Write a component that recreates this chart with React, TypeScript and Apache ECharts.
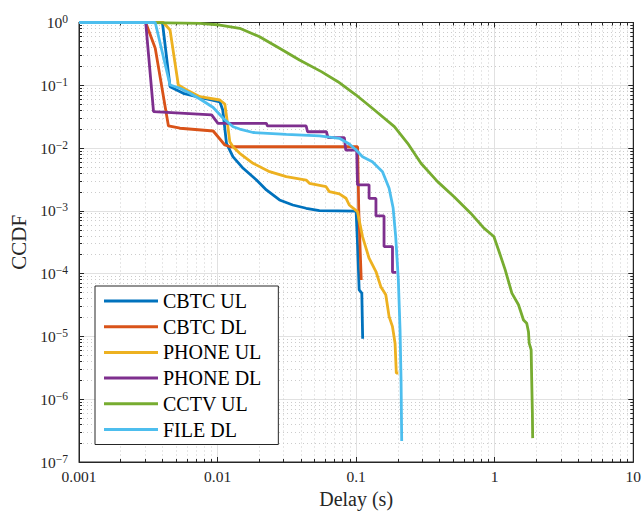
import React, { useEffect, useRef } from "react";
import * as echarts from "echarts";

const FONT = '"Liberation Serif", "DejaVu Serif", serif';
const AXIS_COLOR = "#262626";

const seriesNames = ["CBTC UL", "CBTC DL", "PHONE UL", "PHONE DL", "CCTV UL", "FILE DL"];
const seriesColors = ["#0072BD", "#D95319", "#EDB120", "#7E2F8E", "#77AC30", "#4DBEEE"];

const xTickValues = [0.001, 0.01, 0.1, 1, 10];
const yTickExponents = [0, -1, -2, -3, -4, -5, -6, -7];

// CBTC UL
const cbtcUlDelay = [0.001, 0.004, 0.00454, 0.00566, 0.00707, 0.0104, 0.0109, 0.0116, 0.0129, 0.0153, 0.0191, 0.0225, 0.028, 0.0349, 0.0436, 0.0543, 0.1, 0.1023, 0.1052, 0.1099, 0.1115];
const cbtcUlCcdf = [1, 1, 0.095, 0.0746, 0.0658, 0.0542, 0.0404, 0.0119, 0.0073, 0.00476, 0.0031, 0.00215, 0.00149, 0.00124, 0.0011, 0.00101, 0.00099, 3.05e-4, 5.5e-5, 4.9e-5, 9.2e-6];

// CBTC DL
const cbtcDlDelay = [0.001, 0.00303, 0.00355, 0.00442, 0.00536, 0.0093, 0.01128, 0.0123, 0.1025, 0.1045, 0.1089];
const cbtcDlCcdf = [1, 1, 0.388, 0.0225, 0.0207, 0.0187, 0.0112, 0.0105, 0.0105, 0.001, 7.9e-5];

// PHONE UL
const phoneUlDelay = [0.001, 0.00406, 0.00454, 0.00521, 0.00599, 0.00746, 0.01039, 0.01128, 0.01166, 0.01225, 0.01296, 0.01445, 0.01803, 0.02375, 0.0313, 0.0436, 0.046, 0.0607, 0.0641, 0.0757, 0.0845, 0.0892, 0.1023, 0.1112, 0.124, 0.139, 0.1507, 0.1637, 0.173, 0.183, 0.191, 0.195, 0.2017];
const phoneUlCcdf = [1, 1, 0.76, 0.101, 0.0841, 0.0658, 0.0583, 0.0504, 0.03, 0.01264, 0.0104, 0.00826, 0.00573, 0.00421, 0.00351, 0.0031, 0.00275, 0.00243, 0.00202, 0.00186, 0.00159, 0.00124, 9.7e-4, 3.9e-4, 1.76e-4, 1.08e-4, 6.2e-5, 4.6e-5, 2.07e-5, 1.43e-5, 7.8e-6, 2.6e-6, 2.6e-6];

// PHONE DL
const phoneDlDelay = [0.001, 0.00303, 0.00345, 0.00906, 0.01006, 0.0225, 0.0229, 0.0436, 0.0446, 0.061, 0.0627, 0.0822, 0.0842, 0.101, 0.1023, 0.124, 0.124, 0.139, 0.139, 0.159, 0.159, 0.183, 0.183, 0.195];
const phoneDlCcdf = [1, 1, 0.038, 0.0337, 0.0248, 0.0248, 0.0225, 0.0225, 0.0182, 0.0182, 0.0147, 0.0147, 0.0093, 0.0093, 0.0026, 0.0026, 0.00158, 0.00158, 8.3e-4, 8.3e-4, 2.7e-4, 2.7e-4, 1.05e-4, 1.05e-4];

// CCTV UL
const cctvUlDelay = [0.001, 0.00326, 0.00746, 0.01039, 0.01445, 0.0201, 0.028, 0.039, 0.0561, 0.0739, 0.1, 0.1356, 0.1888, 0.2355, 0.2936, 0.387, 0.509, 0.671, 0.836, 0.986, 1.066, 1.191, 1.33, 1.485, 1.614, 1.703, 1.753, 1.774, 1.833, 1.85, 1.871, 1.88];
const cctvUlCcdf = [1, 0.995, 0.971, 0.912, 0.809, 0.594, 0.388, 0.253, 0.165, 0.114, 0.07, 0.0404, 0.0219, 0.0119, 0.00573, 0.00292, 0.00168, 9.2e-4, 5.3e-4, 3.9e-4, 2.38e-4, 1.15e-4, 4.9e-5, 3.2e-5, 1.83e-5, 1.62e-5, 1.19e-5, 7.8e-6, 6.1e-6, 2.03e-6, 6e-7, 2.4e-7];

// FILE DL
const fileDlDelay = [0.001, 0.00355, 0.00454, 0.00536, 0.00632, 0.00767, 0.0093, 0.01097, 0.01294, 0.01445, 0.01803, 0.0313, 0.0543, 0.0757, 0.0892, 0.1, 0.1112, 0.131, 0.155, 0.173, 0.185, 0.193, 0.2017, 0.2075, 0.211, 0.2133];
const fileDlCcdf = [1, 1, 0.101, 0.0896, 0.0746, 0.0583, 0.0443, 0.0298, 0.0219, 0.0201, 0.0177, 0.0165, 0.0156, 0.0143, 0.0116, 0.0093, 0.0073, 0.00607, 0.0042, 0.00229, 0.00111, 3.9e-4, 7.9e-5, 1.26e-5, 2.03e-6, 2.16e-7];

const allDelays = [cbtcUlDelay, cbtcDlDelay, phoneUlDelay, phoneDlDelay, cctvUlDelay, fileDlDelay];
const allCcdfs = [cbtcUlCcdf, cbtcDlCcdf, phoneUlCcdf, phoneDlCcdf, cctvUlCcdf, fileDlCcdf];

const zip = (xs: number[], ys: number[]) => xs.map((x, i) => [x, ys[i]]);

export default function App() {
  const ref = useRef<HTMLDivElement>(null);
  useEffect(() => {
    if (!ref.current) return;
    const chart = echarts.init(ref.current, null, { renderer: "svg" });

    const majorSplit = { show: true, lineStyle: { color: "#e1e1e1", width: 1, type: "solid" } };
    const minorSplit = { show: true, lineStyle: { color: "#cccccc", width: 1, type: [1, 3] } };
    const tick = { show: true, inside: true, length: 5, lineStyle: { color: AXIS_COLOR, width: 1 } };
    const minorTick = { show: true, splitNumber: 9, length: 3, lineStyle: { color: AXIS_COLOR, width: 1 } };
    const axisLine = { show: true, lineStyle: { color: AXIS_COLOR, width: 1 } };

    const option: any = {
      animation: false,
      backgroundColor: "#ffffff",
      grid: {
        left: 78.5,
        right: 8.5,
        top: 22.5,
        bottom: 52,
        show: true,
        borderColor: AXIS_COLOR,
        borderWidth: 1,
      },
      legend: {
        data: seriesNames,
        orient: "vertical",
        left: 95,
        top: 286,
        backgroundColor: "#ffffff",
        borderColor: AXIS_COLOR,
        borderWidth: 1,
        borderRadius: 0,
        padding: [5, 17, 5, 9],
        itemGap: 5.7,
        itemWidth: 54,
        itemHeight: 3,
        icon: "rect",
        textStyle: { fontFamily: FONT, fontSize: 20, lineHeight: 20, color: "#000" },
      },
      xAxis: [
        {
          type: "log",
          logBase: 10,
          min: 0.001,
          max: 10,
          position: "bottom",
          name: "Delay (s)",
          nameLocation: "middle",
          nameGap: 27,
          nameTextStyle: { fontFamily: FONT, fontSize: 20, color: AXIS_COLOR },
          axisLine,
          axisTick: tick,
          minorTick,
          splitLine: majorSplit,
          minorSplitLine: minorSplit,
          axisLabel: {
            fontFamily: FONT,
            fontSize: 15.5,
            color: AXIS_COLOR,
            margin: 6,
            formatter: (v: number) => {
              const found = xTickValues.find((t) => Math.abs(Math.log10(t) - Math.log10(v)) < 1e-6);
              return found !== undefined ? String(found) : "";
            },
          },
        },
        {
          type: "log",
          logBase: 10,
          min: 0.001,
          max: 10,
          position: "top",
          axisLine,
          axisTick: tick,
          minorTick,
          axisLabel: { show: false },
          splitLine: { show: false },
        },
      ],
      yAxis: [
        {
          type: "log",
          logBase: 10,
          min: 1e-7,
          max: 1,
          position: "left",
          name: "CCDF",
          nameLocation: "middle",
          nameGap: 50,
          nameTextStyle: { fontFamily: FONT, fontSize: 21, color: AXIS_COLOR },
          axisLine,
          axisTick: tick,
          minorTick,
          splitLine: majorSplit,
          minorSplitLine: minorSplit,
          axisLabel: {
            margin: 11,
            formatter: (v: number) => {
              const e = Math.round(Math.log10(v));
              if (!yTickExponents.includes(e)) return "";
              const s = e < 0 ? "\u2212" + String(-e) : String(e);
              return "{b|10}{s|" + s + "}";
            },
            rich: {
              b: { fontFamily: FONT, fontSize: 15.5, lineHeight: 19, color: AXIS_COLOR },
              s: { fontFamily: FONT, fontSize: 11.5, lineHeight: 10, verticalAlign: "top", color: AXIS_COLOR },
            },
          },
        },
        {
          type: "log",
          logBase: 10,
          min: 1e-7,
          max: 1,
          position: "right",
          axisLine,
          axisTick: tick,
          minorTick,
          axisLabel: { show: false },
          splitLine: { show: false },
        },
      ],
      series: seriesNames.map((name, i) => ({
        name,
        type: "line",
        xAxisIndex: 0,
        yAxisIndex: 0,
        showSymbol: false,
        symbol: "none",
        color: seriesColors[i],
        lineStyle: { width: 2.8, color: seriesColors[i] },
        data: zip(allDelays[i], allCcdfs[i]),
        z: 2 + i * 0.01,
      })),
    };

    chart.setOption(option);
    return () => chart.dispose();
  }, []);

  return (
    <div
      ref={ref}
      style={{ position: "fixed", left: 0, top: 0, width: 644, height: 514, background: "#fff" }}
    />
  );
}
